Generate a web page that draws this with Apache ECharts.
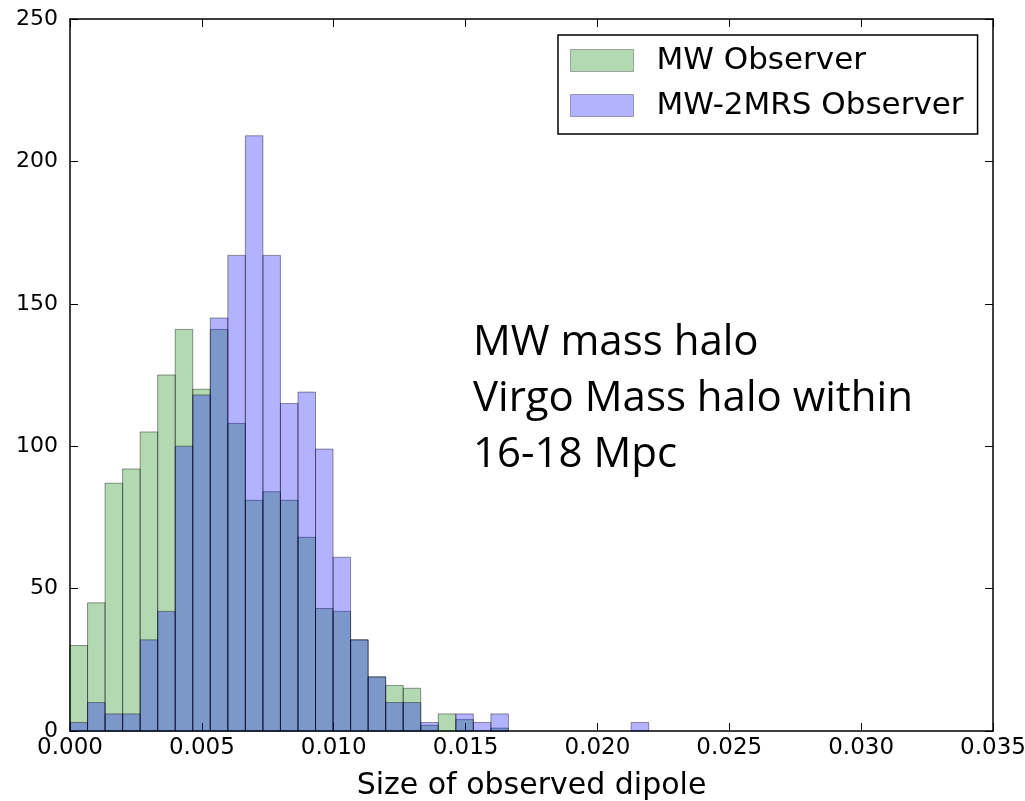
<!DOCTYPE html>
<html>
<head>
<meta charset="utf-8">
<script src="https://cdn.jsdelivr.net/npm/echarts@6/dist/echarts.min.js"></script>
<style>
  html, body { margin: 0; padding: 0; background: #fff; }
  #chart { width: 1025px; height: 801px; }
</style>
</head>
<body>
<div id="chart"></div>
<script>
// ---- data (histogram counts per bin, bins start at 0) ----
const binWidth = 0.000665;
const mwCounts = [30, 45, 87, 92, 105, 125, 141, 120, 141, 108, 81, 84, 81, 68, 43, 42, 32, 19, 16, 15, 2, 6, 4, 0, 1];
const mw2mrsCounts = [3, 10, 6, 6, 32, 42, 100, 118, 145, 167, 209, 167, 115, 119, 99, 61, 32, 19, 10, 10, 3, 0, 6, 3, 6, 0, 0, 0, 0, 0, 0, 0, 3];
const seriesNames = ['MW Observer', 'MW-2MRS Observer'];
const xTicks = [0, 0.005, 0.010, 0.015, 0.020, 0.025, 0.030, 0.035];
const yTicks = [0, 50, 100, 150, 200, 250];
const xLabel = 'Size of observed dipole';
const noteLines = ['MW mass halo', 'Virgo Mass halo within', '16-18 Mpc'];

const greenFill = 'rgba(0,128,0,0.3)';
const blueFill = 'rgba(0,0,255,0.3)';
const edge = 'rgba(0,0,0,0.4)';

function toData(counts) {
  return counts.map((c, i) => [i, c]);
}
function renderBin(fill) {
  return function (params, api) {
    const i = api.value(0);
    const c = api.value(1);
    if (!c) return null;
    const x0 = i * binWidth;
    const p0 = api.coord([x0, c]);
    const p1 = api.coord([x0 + binWidth, 0]);
    return {
      type: 'rect',
      shape: { x: p0[0], y: p0[1], width: p1[0] - p0[0], height: p1[1] - p0[1] },
      style: { fill: fill, stroke: edge, lineWidth: 1 }
    };
  };
}

const font = 'DejaVu Sans';
const chart = echarts.init(document.getElementById('chart'), null, { renderer: 'canvas' });

const axisLineStyle = { color: '#000', width: 1.5 };
const tickStyle = { show: true, inside: true, length: 8, lineStyle: { color: '#000', width: 1 } };

const option = {
  backgroundColor: '#fff',
  animation: false,
  grid: { left: 70, right: 32, top: 19, bottom: 70, containLabel: false, outerBoundsMode: 'none' },
  xAxis: [
    {
      type: 'value', min: 0, max: 0.035, interval: 0.005,
      axisLine: { show: true, onZero: false, lineStyle: axisLineStyle },
      axisTick: tickStyle,
      splitLine: { show: false },
      axisLabel: {
        color: '#000', fontFamily: font, fontSize: 23, margin: 6,
        formatter: v => v.toFixed(3)
      },
      name: xLabel, nameLocation: 'middle', nameGap: 40,
      nameTextStyle: { color: '#000', fontFamily: font, fontSize: 30 }
    },
    {
      type: 'value', min: 0, max: 0.035, interval: 0.005, position: 'top',
      axisLine: { show: true, onZero: false, lineStyle: axisLineStyle },
      axisTick: tickStyle,
      splitLine: { show: false },
      axisLabel: { show: false }
    }
  ],
  yAxis: [
    {
      type: 'value', min: 0, max: 250, interval: 50,
      axisLine: { show: true, onZero: false, lineStyle: axisLineStyle },
      axisTick: tickStyle,
      splitLine: { show: false },
      axisLabel: { color: '#000', fontFamily: font, fontSize: 22, margin: 12 }
    },
    {
      type: 'value', min: 0, max: 250, interval: 50, position: 'right',
      axisLine: { show: true, onZero: false, lineStyle: axisLineStyle },
      axisTick: tickStyle,
      splitLine: { show: false },
      axisLabel: { show: false }
    }
  ],
  legend: {
    orient: 'vertical',
    left: 558, top: 35,
    padding: [10, 14, 13, 12],
    itemWidth: 63, itemHeight: 22, itemGap: 14,
    icon: 'rect',
    borderColor: '#000', borderWidth: 1.5,
    backgroundColor: '#fff',
    itemStyle: { borderColor: 'rgba(0,0,0,0.3)', borderWidth: 1 },
    textStyle: { color: '#000', fontFamily: font, fontSize: 31, padding: [2, 0, 0, 18] },
    data: seriesNames
  },
  series: [
    {
      name: seriesNames[0], type: 'custom',
      renderItem: renderBin(greenFill),
      itemStyle: { color: greenFill },
      encode: { x: 0, y: 1 },
      data: toData(mwCounts), z: 2
    },
    {
      name: seriesNames[1], type: 'custom',
      renderItem: renderBin(blueFill),
      itemStyle: { color: blueFill },
      encode: { x: 0, y: 1 },
      data: toData(mw2mrsCounts), z: 3
    }
  ],
  graphic: noteLines.map((t, k) => ({
    type: 'text', left: 473, top: 322 + k * 56, z: 10,
    style: { text: t, fontFamily: 'Open Sans', fontSize: 42, fill: '#000' }
  }))
};
chart.setOption(option);
</script>
</body>
</html>
